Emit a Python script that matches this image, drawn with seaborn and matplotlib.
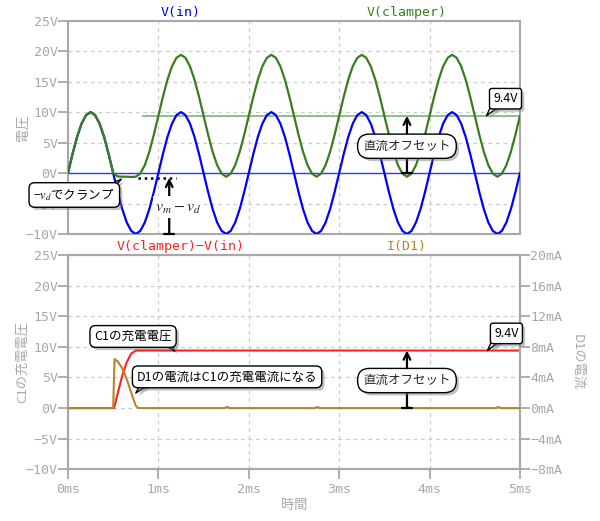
import numpy as np
import matplotlib
matplotlib.use('Agg')
import matplotlib.pyplot as plt
import matplotlib.patheffects as pe
import seaborn as sns

# sample times in ms (0.05 ms step) for V(in) / V(clamper)
t = np.round(np.arange(0, 5.0001, 0.05), 3)

v_in = [
    0, 3.1, 5.9, 8.1, 9.5, 10, 9.5, 8.1, 5.9, 3.1, 0, -3.1, -5.9, -8.1, -9.5, -10, -9.5, -8.1, -5.9, -3.1,
    0, 3.1, 5.9, 8.1, 9.5, 10, 9.5, 8.1, 5.9, 3.1, 0, -3.1, -5.9, -8.1, -9.5, -10, -9.5, -8.1, -5.9, -3.1,
    0, 3.1, 5.9, 8.1, 9.5, 10, 9.5, 8.1, 5.9, 3.1, 0, -3.1, -5.9, -8.1, -9.5, -10, -9.5, -8.1, -5.9, -3.1,
    0, 3.1, 5.9, 8.1, 9.5, 10, 9.5, 8.1, 5.9, 3.1, 0, -3.1, -5.9, -8.1, -9.5, -10, -9.5, -8.1, -5.9, -3.1,
    0, 3.1, 5.9, 8.1, 9.5, 10, 9.5, 8.1, 5.9, 3.1, 0, -3.1, -5.9, -8.1, -9.5, -10, -9.5, -8.1, -5.9, -3.1,
    0]

v_clamper = [
    0, 3.1, 5.9, 8.1, 9.5, 10, 9.5, 8.1, 5.9, 3.1, 0, -0.55, -0.6, -0.6, -0.65, -0.6, -0.1, 1.3, 3.5, 6.3,
    9.4, 12.5, 15.3, 17.5, 18.9, 19.4, 18.9, 17.5, 15.3, 12.5, 9.4, 6.3, 3.5, 1.3, -0.1, -0.6, -0.1, 1.3, 3.5, 6.3,
    9.4, 12.5, 15.3, 17.5, 18.9, 19.4, 18.9, 17.5, 15.3, 12.5, 9.4, 6.3, 3.5, 1.3, -0.1, -0.6, -0.1, 1.3, 3.5, 6.3,
    9.4, 12.5, 15.3, 17.5, 18.9, 19.4, 18.9, 17.5, 15.3, 12.5, 9.4, 6.3, 3.5, 1.3, -0.1, -0.6, -0.1, 1.3, 3.5, 6.3,
    9.4, 12.5, 15.3, 17.5, 18.9, 19.4, 18.9, 17.5, 15.3, 12.5, 9.4, 6.3, 3.5, 1.3, -0.1, -0.6, -0.1, 1.3, 3.5, 6.3,
    9.4]

# V(clamper)-V(in): C1 charge voltage
t_c1 = [0, 0.51, 0.55, 0.6, 0.65, 0.7, 0.75, 5.0]
v_c1 = [0, 0, 2.4, 5.3, 7.5, 8.9, 9.4, 9.4]

# I(D1) in mA
t_d1 = [0, 0.5, 0.515, 0.55, 0.6, 0.65, 0.7, 0.75, 0.78,
        1.73, 1.76, 1.79, 2.73, 2.76, 2.79, 3.73, 3.76, 3.79, 4.73, 4.76, 4.79, 5.0]
i_d1 = [0, 0, 6.4, 6.1, 5.2, 3.8, 2.0, 0.3, 0,
        0, 0.15, 0, 0, 0.15, 0, 0, 0.15, 0, 0, 0.15, 0, 0]

offset_v = 9.4
clamp_dots_v = -0.8
MA_PER_V = 0.8  # right axis (-8..20 mA) against left axis (-10..25 V)

ms_ticks = [0, 1, 2, 3, 4, 5]
ms_labels = ['0ms', '1ms', '2ms', '3ms', '4ms', '5ms']
v_ticks = [-10, -5, 0, 5, 10, 15, 20, 25]
v_labels = ['−10V', '−5V', '0V', '5V', '10V', '15V', '20V', '25V']
ma_ticks = [-8, -4, 0, 4, 8, 12, 16, 20]
ma_labels = ['−8mA', '−4mA', '0mA', '4mA', '8mA', '12mA', '16mA', '20mA']

BLUE = '#0000ff'
GREEN = '#3a7d1e'
RED = '#ff2020'
GOLD = '#b5852a'
GRAY = '#a8a8a8'
MONO = 'DejaVu Sans Mono'
BAR_ARROW = ']->,widthA=0.3,lengthA=0'

sns.set_style('white')
plt.rcParams['font.family'] = ['Noto Sans CJK JP', 'DejaVu Sans']
plt.rcParams['mathtext.fontset'] = 'stix'

fig = plt.figure(figsize=(6, 5.21), dpi=100)
ax1 = fig.add_axes([0.1133, 0.5509, 0.7533, 0.4094])
ax2 = fig.add_axes([0.1133, 0.0992, 0.7533, 0.4113])
ax2r = ax2.twinx()


def style_axis(ax, xticks=True):
    for s in ax.spines.values():
        s.set_color(GRAY)
        s.set_linewidth(1.5)
    ax.set_xlim(0, 5)
    ax.set_ylim(-10, 25)
    ax.set_xticks(ms_ticks)
    ax.set_yticks(v_ticks)
    ax.set_yticklabels(v_labels, fontfamily=MONO, fontsize=9.5, color=GRAY)
    if xticks:
        ax.set_xticklabels(ms_labels, fontfamily=MONO, fontsize=9.5, color=GRAY)
        ax.tick_params(axis='x', length=7, width=1.3, color=GRAY, pad=3, bottom=True)
    else:
        ax.set_xticklabels([])
        ax.tick_params(axis='x', length=0)
    ax.tick_params(axis='y', length=7, width=1.3, color=GRAY, pad=0.5, left=True)
    ax.grid(True, color='#cccccc', linestyle=(0, (3, 3)), lw=0.9)
    ax.set_xlabel('')


SHADOW = [pe.withSimplePatchShadow(offset=(2, -2), shadow_rgbFace='#777777', alpha=0.45)]


def callout(ax, text, xy, xytext, relpos, box='round,pad=0.35,rounding_size=0.45', fs=9, tail=0.9):
    ann = ax.annotate(text, xy=xy, xytext=xytext, ha='center', va='center', fontsize=fs,
                      color='black', zorder=10, annotation_clip=False,
                      bbox=dict(boxstyle=box, fc='white', ec='black', lw=1.0),
                      arrowprops=dict(arrowstyle=f'wedge,tail_width={tail},shrink_factor=0.5',
                                      fc='white', ec='black', lw=1.0, relpos=relpos,
                                      patchA=None, shrinkA=0, shrinkB=0))
    ann.get_bbox_patch().set_path_effects(SHADOW)
    ann.arrow_patch.set_path_effects(SHADOW)
    return ann


def pill(ax, text, xy, fs=9):
    txt = ax.text(xy[0], xy[1], text, ha='center', va='center', fontsize=fs, zorder=10,
                  bbox=dict(boxstyle='round,pad=0.45,rounding_size=0.95', fc='white', ec='black', lw=1.0))
    txt.get_bbox_patch().set_path_effects(SHADOW)


# ---- top panel
ax1.axhline(0, color='#2040ff', lw=1.0, zorder=2)
ax1.hlines(offset_v, 0.82, 5, color='#8cc08c', lw=1.4, zorder=2)
sns.lineplot(x=t, y=v_in, ax=ax1, color=BLUE, lw=1.6, zorder=3)
sns.lineplot(x=t, y=v_clamper, ax=ax1, color=GREEN, lw=1.6, zorder=4)
ax1.hlines(clamp_dots_v, 0.775, 1.2, color='black', lw=1.8, linestyles=(0, (1.0, 1.5)), zorder=5)
style_axis(ax1, xticks=False)
ax1.set_ylabel('')
ax1.text(-0.1, 0.5, '電圧', transform=ax1.transAxes, rotation=90, ha='center', va='center',
         fontsize=9.5, color=GRAY)
ax1.text(0.25, 1.04, 'V(in)', transform=ax1.transAxes, ha='center', va='center',
         fontfamily=MONO, fontsize=9.5, color=BLUE)
ax1.text(0.75, 1.04, 'V(clamper)', transform=ax1.transAxes, ha='center', va='center',
         fontfamily=MONO, fontsize=9.5, color=GREEN)

ax1.annotate('', xy=(1.12, clamp_dots_v), xytext=(1.12, -10),
             arrowprops=dict(arrowstyle=BAR_ARROW, lw=1.6, color='black', shrinkA=0, shrinkB=0,
                             mutation_scale=12), zorder=6)
ax1.text(1.22, -5.6, r'$v_m - v_d$', ha='center', va='center', fontsize=11.5, zorder=7,
         bbox=dict(boxstyle='square,pad=0.15', fc='white', ec='none'))
ax1.annotate('', xy=(3.75, offset_v), xytext=(3.75, 0),
             arrowprops=dict(arrowstyle=BAR_ARROW, lw=1.6, color='black', shrinkA=0, shrinkB=0,
                             mutation_scale=12), zorder=6)
pill(ax1, '直流オフセット', (3.75, 4.4))
callout(ax1, r'−$v_d$でクランプ', xy=(0.59, -1.0), xytext=(0.07, -3.6), relpos=(0.86, 0.65), tail=0.8)
callout(ax1, '9.4V', xy=(4.63, offset_v), xytext=(4.84, 12.2), relpos=(0.22, 0.35),
        box='round,pad=0.3,rounding_size=0.2', tail=0.8)

# ---- bottom panel
sns.lineplot(x=t_d1, y=i_d1, ax=ax2r, color=GOLD, lw=1.5, zorder=3)
sns.lineplot(x=t_c1, y=v_c1, ax=ax2, color=RED, lw=1.5, zorder=4)
style_axis(ax2, xticks=True)
ax2.set_ylabel('')
ax2r.set_ylim(-8, 20)
ax2r.set_yticks(ma_ticks)
ax2r.set_yticklabels(ma_labels, fontfamily=MONO, fontsize=9.5, color=GRAY)
ax2r.tick_params(axis='y', length=7, width=1.3, color=GRAY, pad=0.5, right=True)
ax2r.set_ylabel('')
for s in ax2r.spines.values():
    s.set_color(GRAY)
    s.set_linewidth(1.5)
ax2r.grid(False)
ax2.text(-0.1, 0.5, 'C1の充電電圧', transform=ax2.transAxes, rotation=90, ha='center', va='center',
         fontsize=9.5, color=GRAY)
ax2.text(1.126, 0.5, 'D1の電流', transform=ax2.transAxes, rotation=270, ha='center', va='center',
         fontsize=9.5, color=GRAY)
ax2.text(0.5, -0.17, '時間', transform=ax2.transAxes, ha='center', va='center',
         fontsize=9.5, color=GRAY)
ax2.text(0.25, 1.04, 'V(clamper)−V(in)', transform=ax2.transAxes, ha='center', va='center',
         fontfamily=MONO, fontsize=9.5, color=RED)
ax2.text(0.75, 1.04, 'I(D1)', transform=ax2.transAxes, ha='center', va='center',
         fontfamily=MONO, fontsize=9.5, color=GOLD)

ax2r.annotate('', xy=(3.75, offset_v * MA_PER_V), xytext=(3.75, 0),
              arrowprops=dict(arrowstyle=BAR_ARROW, lw=1.6, color='black', shrinkA=0, shrinkB=0,
                              mutation_scale=12), zorder=6)
pill(ax2r, '直流オフセット', (3.75, 4.5 * MA_PER_V))
callout(ax2r, 'C1の充電電圧', xy=(1.18, 9.3 * MA_PER_V), xytext=(0.72, 11.7 * MA_PER_V),
        relpos=(0.88, 0.4), tail=0.8)
callout(ax2r, 'D1の電流はC1の充電電流になる', xy=(0.75, 2.45 * MA_PER_V), xytext=(1.76, 5.1 * MA_PER_V),
        relpos=(0.07, 0.4), tail=0.8)
callout(ax2r, '9.4V', xy=(4.64, offset_v * MA_PER_V), xytext=(4.85, 12.2 * MA_PER_V), relpos=(0.22, 0.35),
        box='round,pad=0.3,rounding_size=0.2', tail=0.8)

fig.savefig('out.png', dpi=100)
